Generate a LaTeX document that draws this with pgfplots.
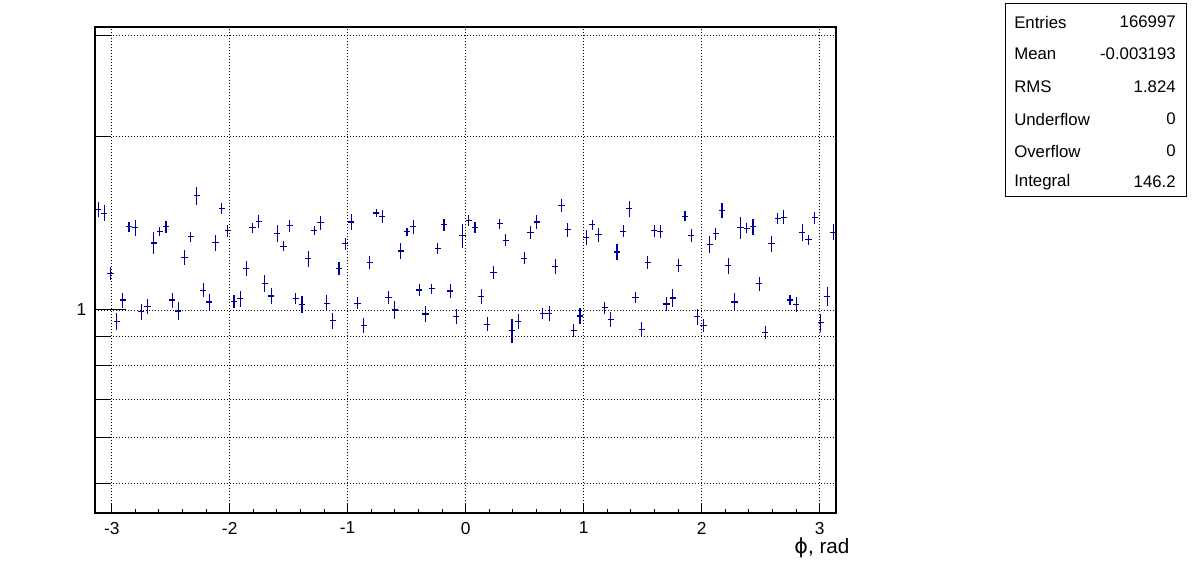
\documentclass[border=0pt]{standalone}
\usepackage{pgfplots}
\pgfplotsset{compat=1.18}
\usepackage{pgfplotstable}
\usepackage{fontspec}
\setmainfont{Liberation Sans}
\newfontfamily\dejavu{DejaVu Sans}
\definecolor{rootblue}{RGB}{0,0,153}

\pgfplotstableread{
x y e
-3.1154 1.4965 0.029
-3.0630 1.4727 0.032
-3.0107 1.1567 0.025
-2.9583 0.9556 0.035
-2.9060 1.0409 0.030
-2.8536 1.3943 0.021
-2.8013 1.3887 0.032
-2.7489 0.9933 0.033
-2.6965 1.0148 0.029
-2.6442 1.3077 0.043
-2.5918 1.3703 0.019
-2.5395 1.3962 0.024
-2.4871 1.0409 0.030
-2.4347 0.9960 0.037
-2.3824 1.2332 0.029
-2.3300 1.3414 0.020
-2.2777 1.5806 0.036
-2.2253 1.0819 0.028
-2.1729 1.0325 0.033
-2.1206 1.3094 0.033
-2.0682 1.5025 0.023
-2.0159 1.3740 0.024
-1.9635 1.0353 0.025
-1.9111 1.0464 0.032
-1.8588 1.1816 0.029
-1.8064 1.3887 0.019
-1.7541 1.4262 0.027
-1.7017 1.1127 0.033
-1.6493 1.0576 0.033
-1.5970 1.3594 0.035
-1.5446 1.2903 0.020
-1.4923 1.3999 0.023
-1.4399 1.0464 0.023
-1.3875 1.0230 0.033
-1.3352 1.2266 0.033
-1.2828 1.3758 0.019
-1.2305 1.4186 0.028
-1.1781 1.0270 0.032
-1.1257 0.9582 0.032
-1.0734 1.1816 0.025
-1.0210 1.3025 0.023
-0.9687 1.4224 0.033
-0.9163 1.0270 0.024
-0.8639 0.9405 0.031
-0.8116 1.2087 0.025
-0.7592 1.4746 0.017
-0.7069 1.4551 0.027
-0.6545 1.0506 0.027
-0.6021 1.0000 0.036
-0.5498 1.2665 0.033
-0.4974 1.3667 0.017
-0.4451 1.3943 0.029
-0.3927 1.0833 0.023
-0.3403 0.9841 0.033
-0.2880 1.0891 0.020
-0.2356 1.2784 0.021
-0.1833 1.4055 0.025
-0.1309 1.0790 0.028
-0.0785 0.9737 0.029
-0.0262 1.3450 0.047
0.0262 1.4320 0.023
0.0785 1.3924 0.023
0.1309 1.0563 0.031
0.1833 0.9442 0.028
0.2356 1.1629 0.027
0.2880 1.4111 0.019
0.3403 1.3218 0.024
0.3927 0.9218 0.048
0.4451 0.9544 0.030
0.4974 1.2300 0.024
0.5498 1.3630 0.025
0.6021 1.4224 0.029
0.6545 0.9867 0.023
0.7069 0.9867 0.029
0.7592 1.1895 0.029
0.8116 1.5206 0.027
0.8639 1.3777 0.027
0.9163 0.9218 0.025
0.9687 0.9763 0.032
1.0210 1.3378 0.031
1.0734 1.4055 0.020
1.1257 1.3503 0.029
1.1781 1.0094 0.024
1.2305 0.9633 0.029
1.2828 1.2614 0.031
1.3352 1.3703 0.024
1.3875 1.4985 0.032
1.4399 1.0520 0.021
1.4923 0.9255 0.031
1.5446 1.2087 0.025
1.5970 1.3721 0.024
1.6493 1.3685 0.027
1.7017 1.0243 0.028
1.7541 1.0492 0.036
1.8064 1.1943 0.027
1.8588 1.4551 0.020
1.9111 1.3486 0.027
1.9635 0.9737 0.032
2.0159 0.9405 0.027
2.0682 1.3007 0.035
2.1206 1.3557 0.023
2.1729 1.4905 0.029
2.2253 1.1927 0.031
2.2777 1.0325 0.035
2.3300 1.3924 0.044
2.3824 1.3869 0.020
2.4347 1.3943 0.032
2.4871 1.1112 0.028
2.5395 0.9133 0.025
2.5918 1.3025 0.031
2.6442 1.4435 0.023
2.6965 1.4493 0.028
2.7489 1.0409 0.021
2.8013 1.0230 0.031
2.8536 1.3649 0.035
2.9060 1.3236 0.019
2.9583 1.4454 0.025
3.0107 0.9505 0.035
3.0630 1.0563 0.039
3.1154 1.3649 0.032
}\phidata

\begin{document}
\begin{tikzpicture}
\useasboundingbox (0,0) rectangle (897pt,429pt);
\begin{axis}[
  at={(71.25pt,44pt)}, anchor=south west,
  scale only axis, width=556pt, height=364.5pt,
  ymode=log, ymin=0.443, ymax=3.10,
  xmin=-3.14159, xmax=3.14159,
  xtick={-3,-2,-1,0,1,2,3},
  xticklabels={-3,-2,-1,0,1,2,3},
  minor x tick num=4,
  ytick={1}, yticklabels={1},
  minor ytick={0.5,0.6,0.7,0.8,0.9,2,3},
  xtick pos=left, ytick pos=left,
  tick align=inside,
  x tick style={black, line width=0.75pt, /pgfplots/major tick length=6.75pt, /pgfplots/minor tick length=3.5pt},
  y tick style={black, line width=0.75pt, /pgfplots/major tick length=23pt, /pgfplots/minor tick length=12pt},
  xmajorgrids, ymajorgrids, yminorgrids,
  grid style={black, line width=0.6pt, dash pattern=on 0.75pt off 1.5pt},
  axis line style={line width=1.5pt},
  tick label style={font=\fontsize{13}{15}\selectfont},
  yticklabel style={xshift=-3pt},
  xticklabel style={yshift=-3pt},
  clip=false,
]
\addplot[draw=none, mark=none,
  error bars/.cd, x dir=both, x fixed=0.02618, y dir=both, y explicit relative,
  error mark=none, error bar style={draw=rootblue, line width=0.85pt, solid}]
  table[x=x, y=y, y error=e] {\phidata};
\node[anchor=north east, inner sep=0pt, font=\fontsize{15.5}{17}\selectfont] at (rel axis cs:1,0) [xshift=10pt, yshift=-18pt] {{\dejavu ϕ}, rad};
\end{axis}
\draw[line width=0.75pt] (753.75pt,426pt) rectangle (889.5pt,281.25pt);
\begin{scope}[every node/.style={inner sep=0pt, font=\fontsize{12.6}{14}\selectfont}]
\node[anchor=west] at (760.5pt,412.5pt) {Entries};
\node[anchor=east] at (882pt,412.5pt) {166997};
\node[anchor=west] at (760.5pt,388.5pt) {Mean};
\node[anchor=east] at (882pt,388.5pt) {-0.003193};
\node[anchor=west] at (760.5pt,363.75pt) {RMS};
\node[anchor=east] at (882pt,363.75pt) {1.824};
\node[anchor=west] at (760.5pt,339.75pt) {Underflow};
\node[anchor=east] at (882pt,339.75pt) {0};
\node[anchor=west] at (760.5pt,315.75pt) {Overflow};
\node[anchor=east] at (882pt,315.75pt) {0};
\node[anchor=west] at (760.5pt,292.5pt) {Integral};
\node[anchor=east] at (882pt,292.5pt) {146.2};
\end{scope}
\end{tikzpicture}
\end{document}
